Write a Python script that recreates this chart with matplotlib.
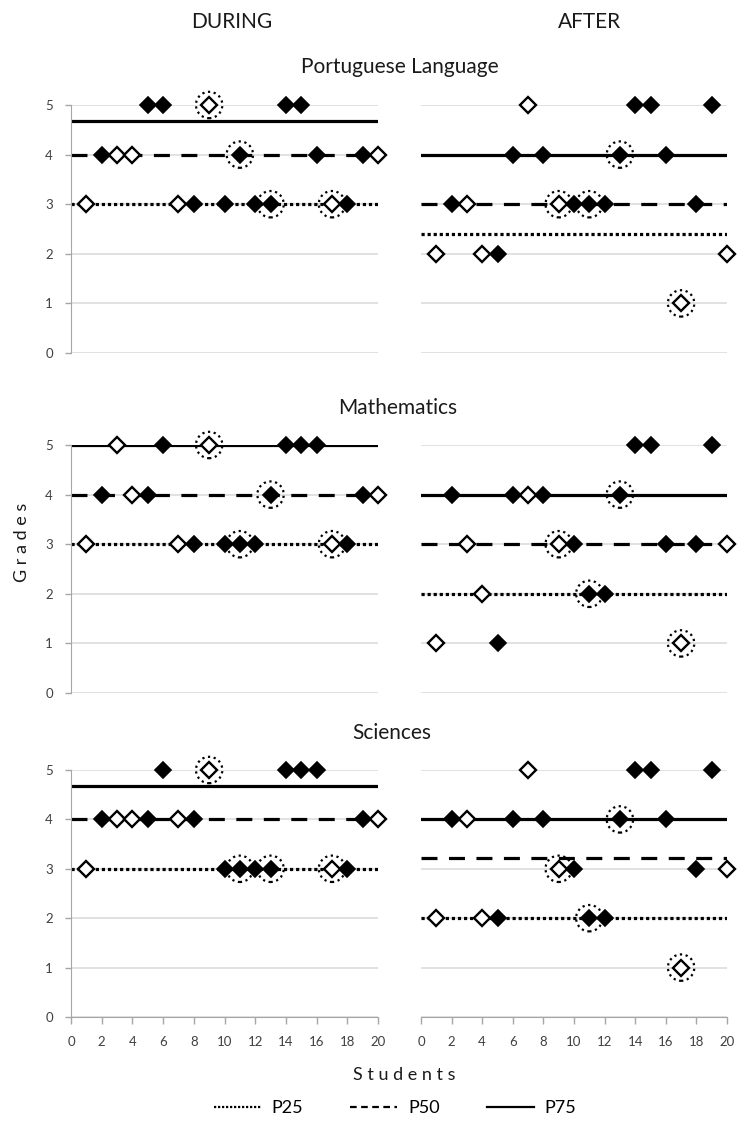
import matplotlib
matplotlib.use("Agg")
import matplotlib.pyplot as plt
from matplotlib.lines import Line2D

plt.rcParams["font.family"] = ["Lato", "DejaVu Sans"]

# 20 students; open diamonds and dotted circles mark the same students in every panel
STUDENTS = list(range(1, 21))
OPEN_STUDENTS = [1, 3, 4, 7, 9, 17, 20]
CIRCLED_STUDENTS = [9, 11, 13, 17]

SUBJECTS = ["Portuguese Language", "Mathematics", "Sciences"]
PERIODS = ["DURING", "AFTER"]

# grades per student (student 1..20)
PT_DURING = [3, 4, 4, 4, 5, 5, 3, 3, 5, 3, 4, 3, 3, 5, 5, 4, 3, 3, 4, 4]
PT_AFTER = [2, 3, 3, 2, 2, 4, 5, 4, 3, 3, 3, 3, 4, 5, 5, 4, 1, 3, 5, 2]
MATH_DURING = [3, 4, 5, 4, 4, 5, 3, 3, 5, 3, 3, 3, 4, 5, 5, 5, 3, 3, 4, 4]
MATH_AFTER = [1, 4, 3, 2, 1, 4, 4, 4, 3, 3, 2, 2, 4, 5, 5, 3, 1, 3, 5, 3]
SCI_DURING = [3, 4, 4, 4, 4, 5, 4, 4, 5, 3, 3, 3, 3, 5, 5, 5, 3, 3, 4, 4]
SCI_AFTER = [2, 4, 4, 2, 2, 4, 5, 4, 3, 3, 2, 2, 4, 5, 5, 4, 1, 3, 5, 3]

GRADES = [PT_DURING, PT_AFTER, MATH_DURING, MATH_AFTER, SCI_DURING, SCI_AFTER]

# percentile lines, same panel order as GRADES
P25 = [3, 2.4, 3, 2, 3, 2]
P50 = [4, 3, 4, 3, 4, 3.22]
P75 = [4.67, 4, 5, 4, 4.68, 4]

GRID = "#d9d9d9"
AXIS = "#a6a6a6"
TICK_TXT = "#404040"

ROW_Y = [(105, 353), (445, 693), (770, 1017)]   # pixel top/bottom of each row
COL_X = [(71, 378), (421, 727)]                  # pixel left/right of each column
W, H = 738, 1130


def panel_rect(r, c):
    (top, bot), (lft, rgt) = ROW_Y[r], COL_X[c]
    return [lft / W, 1 - bot / H, (rgt - lft) / W, (bot - top) / H]


def draw_panel(ax, grades, p25, p50, p75, left, bottom):
    ax.set_xlim(0, 20)
    ax.set_ylim(0, 5)
    for g in range(6):
        ax.axhline(g, color=GRID, lw=1.1, zorder=0)

    ax.axhline(p25, color="black", lw=2.3, ls=(0, (1, 0.9)), zorder=2)
    ax.axhline(p50, color="black", lw=2.3, ls=(0, (5, 3.6)), zorder=2)
    ax.axhline(p75, color="black", lw=2.3, ls="-", zorder=2)

    circ_x = [s for s in STUDENTS if s in CIRCLED_STUDENTS]
    circ_y = [grades[s - 1] for s in circ_x]
    ax.scatter(circ_x, circ_y, s=19 ** 2, facecolors="none", edgecolors="black",
               linewidths=1.6, linestyle=(0, (1, 1.6)), zorder=3, clip_on=False)

    fx = [s for s in STUDENTS if s not in OPEN_STUDENTS]
    fy = [grades[s - 1] for s in fx]
    ox = [s for s in STUDENTS if s in OPEN_STUDENTS]
    oy = [grades[s - 1] for s in ox]
    ax.plot(fx, fy, ls="none", marker="D", ms=8.6, mfc="black", mec="black",
            mew=1.2, zorder=4, clip_on=False)
    ax.plot(ox, oy, ls="none", marker="D", ms=8.2, mfc="white", mec="black",
            mew=1.7, zorder=4, clip_on=False)

    for sp in ax.spines.values():
        sp.set_visible(False)
    ax.set_facecolor("none")

    if left:
        ax.spines["left"].set_visible(True)
        ax.spines["left"].set_color(AXIS)
        ax.set_yticks(range(6))
        ax.tick_params(axis="y", colors=AXIS, length=4, width=1, pad=9,
                       labelsize=9.5, labelcolor=TICK_TXT)
    else:
        ax.set_yticks([])

    if bottom:
        ax.spines["bottom"].set_visible(True)
        ax.spines["bottom"].set_color(AXIS)
        ax.set_xticks(range(0, 21, 2))
        ax.tick_params(axis="x", colors=AXIS, length=5, width=1, pad=9,
                       labelsize=9.5, labelcolor=TICK_TXT)
    else:
        ax.set_xticks([])


fig = plt.figure(figsize=(W / 100, H / 100), dpi=100)

for i, grades in enumerate(GRADES):
    r, c = divmod(i, 2)
    ax = fig.add_axes(panel_rect(r, c))
    draw_panel(ax, grades, P25[i], P50[i], P75[i], left=(c == 0), bottom=(r == 2))

fig.text(232 / W, 1 - 22 / H, PERIODS[0], ha="center", va="center", fontsize=15,
         color="#1a1a1a")
fig.text(589 / W, 1 - 22 / H, PERIODS[1], ha="center", va="center", fontsize=15,
         color="#1a1a1a")
for name, xpx, ypx in zip(SUBJECTS, [400, 398, 392], [67, 408, 733]):
    fig.text(xpx / W, 1 - ypx / H, name, ha="center", va="center", fontsize=15,
             color="#1a1a1a")

fig.text(22 / W, 1 - 542 / H, "G r a d e s", rotation=90, ha="center", va="center",
         fontsize=13, color="#1a1a1a")
fig.text(404 / W, 1 - 1075 / H, "S t u d e n t s", ha="center", va="center",
         fontsize=13, color="#1a1a1a")

handles = [
    Line2D([], [], color="black", lw=1.6, ls=(0, (1, 0.8))),
    Line2D([], [], color="black", lw=1.6, ls=(0, (3, 2))),
    Line2D([], [], color="black", lw=1.6, ls="-"),
]
fig.legend(handles, ["P25", "P50", "P75"], loc="center",
           bbox_to_anchor=(395 / W, 1 - 1108 / H), ncol=3, frameon=False,
           fontsize=13, handlelength=2.6, columnspacing=2.6, handletextpad=0.6)

fig.savefig("out.png", dpi=100)
